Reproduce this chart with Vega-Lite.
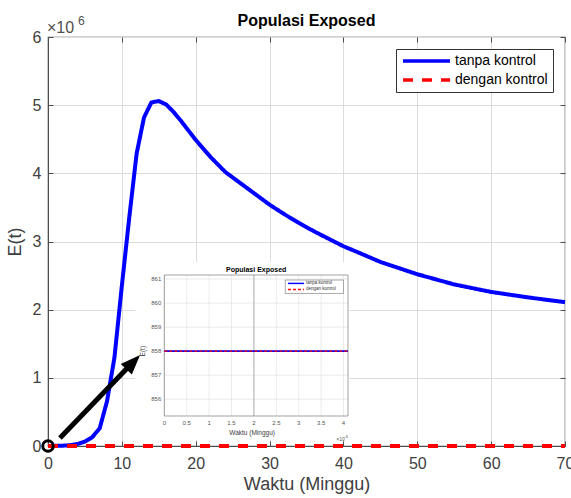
{
  "$schema": "https://vega.github.io/schema/vega-lite/v6.json",
  "width": 517,
  "height": 409,
  "autosize": "none",
  "padding": {"left": 48, "top": 37, "right": 6, "bottom": 52},
  "title": {"text": "Populasi Exposed", "font": "Liberation Sans", "fontSize": 16, "fontWeight": "bold", "color": "black", "offset": 9, "frame": "group", "dy": 23},
  "config": {
    "view": {"stroke": "#4d4d4d", "strokeWidth": 1.2},
    "font": "Liberation Sans",
    "axis": {"labelFont": "Liberation Sans", "titleFont": "Liberation Sans"},
    "legend": {"labelFont": "Liberation Sans"}
  },
  "datasets": {
    "one": [{}],
    "main": [
      {"t": 0, "E": 858, "series": "tanpa kontrol"},
      {"t": 1, "E": 2000, "series": "tanpa kontrol"},
      {"t": 2, "E": 5000, "series": "tanpa kontrol"},
      {"t": 3, "E": 12000, "series": "tanpa kontrol"},
      {"t": 4, "E": 30000, "series": "tanpa kontrol"},
      {"t": 5, "E": 65000, "series": "tanpa kontrol"},
      {"t": 6, "E": 130000, "series": "tanpa kontrol"},
      {"t": 7, "E": 260000, "series": "tanpa kontrol"},
      {"t": 8, "E": 660000, "series": "tanpa kontrol"},
      {"t": 9, "E": 1300000, "series": "tanpa kontrol"},
      {"t": 10, "E": 2350000, "series": "tanpa kontrol"},
      {"t": 11, "E": 3350000, "series": "tanpa kontrol"},
      {"t": 12, "E": 4290000, "series": "tanpa kontrol"},
      {"t": 13, "E": 4820000, "series": "tanpa kontrol"},
      {"t": 14, "E": 5040000, "series": "tanpa kontrol"},
      {"t": 15, "E": 5060000, "series": "tanpa kontrol"},
      {"t": 16, "E": 5010000, "series": "tanpa kontrol"},
      {"t": 17, "E": 4900000, "series": "tanpa kontrol"},
      {"t": 18, "E": 4770000, "series": "tanpa kontrol"},
      {"t": 19, "E": 4630000, "series": "tanpa kontrol"},
      {"t": 20, "E": 4490000, "series": "tanpa kontrol"},
      {"t": 22, "E": 4240000, "series": "tanpa kontrol"},
      {"t": 24, "E": 4020000, "series": "tanpa kontrol"},
      {"t": 26, "E": 3860000, "series": "tanpa kontrol"},
      {"t": 28, "E": 3700000, "series": "tanpa kontrol"},
      {"t": 30, "E": 3540000, "series": "tanpa kontrol"},
      {"t": 32, "E": 3400000, "series": "tanpa kontrol"},
      {"t": 34, "E": 3270000, "series": "tanpa kontrol"},
      {"t": 36, "E": 3150000, "series": "tanpa kontrol"},
      {"t": 38, "E": 3040000, "series": "tanpa kontrol"},
      {"t": 40, "E": 2930000, "series": "tanpa kontrol"},
      {"t": 42, "E": 2840000, "series": "tanpa kontrol"},
      {"t": 45, "E": 2700000, "series": "tanpa kontrol"},
      {"t": 50, "E": 2520000, "series": "tanpa kontrol"},
      {"t": 55, "E": 2370000, "series": "tanpa kontrol"},
      {"t": 60, "E": 2260000, "series": "tanpa kontrol"},
      {"t": 65, "E": 2180000, "series": "tanpa kontrol"},
      {"t": 70, "E": 2110000, "series": "tanpa kontrol"},
      {"t": 0, "E": 858, "series": "dengan kontrol"},
      {"t": 5, "E": 700, "series": "dengan kontrol"},
      {"t": 10, "E": 500, "series": "dengan kontrol"},
      {"t": 20, "E": 250, "series": "dengan kontrol"},
      {"t": 30, "E": 120, "series": "dengan kontrol"},
      {"t": 40, "E": 60, "series": "dengan kontrol"},
      {"t": 50, "E": 30, "series": "dengan kontrol"},
      {"t": 60, "E": 15, "series": "dengan kontrol"},
      {"t": 70, "E": 8, "series": "dengan kontrol"}
    ],
    "inset": [
      {"t": 0, "E": 858, "series": "tanpa kontrol"},
      {"t": 0.0000041, "E": 858, "series": "tanpa kontrol"},
      {"t": 0, "E": 858, "series": "dengan kontrol"},
      {"t": 0.0000041, "E": 858, "series": "dengan kontrol"}
    ],
    "insetX": [
      {"v": 0, "label": "0"},
      {"v": 0.0000005, "label": "0.5"},
      {"v": 0.000001, "label": "1"},
      {"v": 0.0000015, "label": "1.5"},
      {"v": 0.000002, "label": "2"},
      {"v": 0.0000025, "label": "2.5"},
      {"v": 0.000003, "label": "3"},
      {"v": 0.0000035, "label": "3.5"},
      {"v": 0.000004, "label": "4"}
    ],
    "insetY": [
      {"w": 856}, {"w": 857}, {"w": 858}, {"w": 859}, {"w": 860}, {"w": 861}
    ]
  },
  "layer": [
    {
      "layer": [
        {
          "data": {"name": "main"},
          "transform": [{"filter": "datum.series == 'tanpa kontrol'"}],
          "mark": {"type": "line", "strokeWidth": 4, "strokeCap": "butt", "strokeJoin": "round"},
          "encoding": {
            "x": {"field": "t", "type": "quantitative",
              "scale": {"domain": [0, 70], "nice": false, "zero": false},
              "axis": {"title": "Waktu (Minggu)", "values": [0, 10, 20, 30, 40, 50, 60, 70], "grid": true, "gridColor": "#dcdcdc",
                "tickSize": -5, "labelPadding": 14, "labelFontSize": 16, "titleFontSize": 18, "titleFontWeight": "normal", "titlePadding": 4,
                "domainColor": "#4d4d4d", "tickColor": "#4d4d4d", "labelColor": "#404040", "titleColor": "#404040", "labelFlush": false}},
            "y": {"field": "E", "type": "quantitative",
              "scale": {"domain": [0, 6000000], "nice": false, "zero": false},
              "axis": {"title": "E(t)", "values": [0, 1000000, 2000000, 3000000, 4000000, 5000000, 6000000], "labelExpr": "datum.value / 1000000",
                "grid": true, "gridColor": "#dcdcdc", "tickSize": -5, "labelPadding": 12, "labelFontSize": 16, "titleFontSize": 18,
                "titleFontWeight": "normal", "titlePadding": 8, "domainColor": "#4d4d4d", "tickColor": "#4d4d4d", "labelColor": "#404040", "titleColor": "#404040"}},
            "color": {"field": "series", "type": "nominal",
              "scale": {"domain": ["tanpa kontrol", "dengan kontrol"], "range": ["#0000ff", "#ff0000"]},
              "legend": {"title": null, "orient": "top-right", "offset": 12, "fillColor": "white", "strokeColor": "#333333", "padding": 5,
                "labelFontSize": 14, "labelColor": "black", "symbolType": "M-1,0H8.4", "symbolSize": 100, "symbolStrokeWidth": 3.5,
                "labelOffset": 40, "rowPadding": 5}},
            "strokeDash": {"field": "series", "type": "nominal",
              "scale": {"domain": ["tanpa kontrol", "dengan kontrol"], "range": [[1, 0], [10, 9]]},
              "legend": {"title": null, "orient": "top-right", "offset": 12, "fillColor": "white", "strokeColor": "#333333", "padding": 5,
                "labelFontSize": 14, "labelColor": "black", "symbolType": "M-1,0H8.4", "symbolSize": 100, "symbolStrokeWidth": 3.5,
                "labelOffset": 40, "rowPadding": 5}}
          }
        },
        {
          "data": {"name": "main"},
          "transform": [{"filter": "datum.series == 'dengan kontrol'"}],
          "mark": {"type": "line", "strokeWidth": 4, "strokeCap": "butt"},
          "encoding": {
            "x": {"field": "t", "type": "quantitative"},
            "y": {"field": "E", "type": "quantitative"},
            "color": {"field": "series", "type": "nominal"},
            "strokeDash": {"field": "series", "type": "nominal"}
          }
        },
        {
          "data": {"name": "one"},
          "mark": {"type": "text", "text": "×10", "align": "left", "baseline": "middle", "fontSize": 16, "color": "#505050", "dx": -1, "dy": -9},
          "encoding": {"x": {"datum": 0, "type": "quantitative"}, "y": {"datum": 6000000, "type": "quantitative"}}
        },
        {
          "data": {"name": "one"},
          "mark": {"type": "text", "text": "6", "align": "left", "baseline": "middle", "fontSize": 12, "color": "#505050", "dx": 30, "dy": -16},
          "encoding": {"x": {"datum": 0, "type": "quantitative"}, "y": {"datum": 6000000, "type": "quantitative"}}
        }
      ]
    },
    {
      "layer": [
        {
          "data": {"name": "one"},
          "mark": {"type": "rect", "fill": "white"},
          "encoding": {
            "x": {"datum": -0.00000065, "type": "quantitative", "scale": {"domain": [0, 0.0000041], "range": [116.3, 300], "nice": false, "zero": false}, "axis": null},
            "x2": {"datum": 0.000004134},
            "y": {"datum": 854.31, "type": "quantitative", "scale": {"domain": [855.3, 861.17], "range": [379, 238], "nice": false, "zero": false}, "axis": null},
            "y2": {"datum": 861.71}
          }
        },
        {
          "data": {"name": "insetX"},
          "mark": {"type": "rule", "color": "#e2e2e2", "strokeWidth": 0.7},
          "encoding": {"x": {"field": "v", "type": "quantitative"}, "y": {"datum": 855.3, "type": "quantitative"}, "y2": {"datum": 861.17}}
        },
        {
          "data": {"name": "insetY"},
          "mark": {"type": "rule", "color": "#e2e2e2", "strokeWidth": 0.7},
          "encoding": {"y": {"field": "w", "type": "quantitative"}, "x": {"datum": 0, "type": "quantitative"}, "x2": {"datum": 0.0000041}}
        },
        {
          "data": {"name": "one"},
          "mark": {"type": "rule", "color": "#aaaaaa", "strokeWidth": 0.9},
          "encoding": {"x": {"datum": 0.000002, "type": "quantitative"}, "y": {"datum": 855.3, "type": "quantitative"}, "y2": {"datum": 861.17}}
        },
        {
          "data": {"name": "one"},
          "mark": {"type": "rect", "fillOpacity": 0, "stroke": "#666666", "strokeWidth": 0.6},
          "encoding": {"x": {"datum": 0, "type": "quantitative"}, "x2": {"datum": 0.0000041}, "y": {"datum": 855.3, "type": "quantitative"}, "y2": {"datum": 861.17}}
        },
        {
          "data": {"name": "inset"},
          "transform": [{"filter": "datum.series == 'tanpa kontrol'"}],
          "mark": {"type": "line", "color": "#0000ff", "strokeWidth": 1.6},
          "encoding": {"x": {"field": "t", "type": "quantitative"}, "y": {"field": "E", "type": "quantitative"}}
        },
        {
          "data": {"name": "inset"},
          "transform": [{"filter": "datum.series == 'dengan kontrol'"}],
          "mark": {"type": "line", "color": "#ff0000", "strokeWidth": 1.3, "strokeDash": [3, 2]},
          "encoding": {"x": {"field": "t", "type": "quantitative"}, "y": {"field": "E", "type": "quantitative"}}
        },
        {
          "data": {"name": "insetX"},
          "mark": {"type": "text", "fontSize": 6, "color": "#555555", "baseline": "top", "dy": 4},
          "encoding": {"x": {"field": "v", "type": "quantitative"}, "y": {"datum": 855.3, "type": "quantitative"}, "text": {"field": "label"}}
        },
        {
          "data": {"name": "insetY"},
          "mark": {"type": "text", "fontSize": 6, "color": "#555555", "align": "right", "baseline": "middle", "dx": -3},
          "encoding": {"y": {"field": "w", "type": "quantitative"}, "x": {"datum": 0, "type": "quantitative"}, "text": {"field": "w"}}
        },
        {
          "data": {"name": "one"},
          "mark": {"type": "text", "text": "Populasi Exposed", "fontSize": 7, "fontWeight": "bold", "color": "black", "baseline": "bottom", "dy": -2},
          "encoding": {"x": {"datum": 0.00000205, "type": "quantitative"}, "y": {"datum": 861.17, "type": "quantitative"}}
        },
        {
          "data": {"name": "one"},
          "mark": {"type": "text", "text": "Waktu (Minggu)", "fontSize": 6.5, "color": "#404040", "baseline": "middle", "dy": 17},
          "encoding": {"x": {"datum": 0.00000196, "type": "quantitative"}, "y": {"datum": 855.3, "type": "quantitative"}}
        },
        {
          "data": {"name": "one"},
          "mark": {"type": "text", "text": "E(t)", "fontSize": 6.5, "color": "#404040", "baseline": "middle", "angle": 270},
          "encoding": {"x": {"datum": -0.00000047, "type": "quantitative"}, "y": {"datum": 858, "type": "quantitative"}}
        },
        {
          "data": {"name": "one"},
          "mark": {"type": "text", "text": "×10", "fontSize": 5, "color": "#555555", "align": "left", "baseline": "middle"},
          "encoding": {"x": {"datum": 0.00000384, "type": "quantitative"}, "y": {"datum": 854.35, "type": "quantitative"}}
        },
        {
          "data": {"name": "one"},
          "mark": {"type": "text", "text": "-6", "fontSize": 4, "color": "#555555", "align": "left", "baseline": "middle", "dx": 8, "dy": -2},
          "encoding": {"x": {"datum": 0.00000384, "type": "quantitative"}, "y": {"datum": 854.35, "type": "quantitative"}}
        },
        {
          "data": {"name": "one"},
          "mark": {"type": "rect", "fill": "white", "stroke": "#555555", "strokeWidth": 0.5},
          "encoding": {"x": {"datum": 0.0000027, "type": "quantitative"}, "x2": {"datum": 0.000004}, "y": {"datum": 860.4, "type": "quantitative"}, "y2": {"datum": 860.96}}
        },
        {
          "data": {"name": "one"},
          "mark": {"type": "rule", "color": "#0000ff", "strokeWidth": 1.5},
          "encoding": {"x": {"datum": 0.00000276, "type": "quantitative"}, "x2": {"datum": 0.00000312}, "y": {"datum": 860.82, "type": "quantitative"}}
        },
        {
          "data": {"name": "one"},
          "mark": {"type": "rule", "color": "#ff0000", "strokeWidth": 1.5, "strokeDash": [3, 2]},
          "encoding": {"x": {"datum": 0.00000276, "type": "quantitative"}, "x2": {"datum": 0.00000312}, "y": {"datum": 860.57, "type": "quantitative"}}
        },
        {
          "data": {"name": "one"},
          "mark": {"type": "text", "text": "tanpa kontrol", "fontSize": 4.5, "color": "#333333", "align": "left", "baseline": "middle"},
          "encoding": {"x": {"datum": 0.00000316, "type": "quantitative"}, "y": {"datum": 860.82, "type": "quantitative"}}
        },
        {
          "data": {"name": "one"},
          "mark": {"type": "text", "text": "dengan kontrol", "fontSize": 4.5, "color": "#333333", "align": "left", "baseline": "middle"},
          "encoding": {"x": {"datum": 0.00000316, "type": "quantitative"}, "y": {"datum": 860.57, "type": "quantitative"}}
        }
      ]
    },
    {
      "layer": [
        {
          "data": {"name": "one"},
          "mark": {"type": "rule", "color": "black", "strokeWidth": 5, "strokeCap": "butt"},
          "encoding": {
            "x": {"datum": 1.62, "type": "quantitative", "scale": {"domain": [0, 70], "nice": false, "zero": false},
              "axis": {"orient": "top", "values": [0, 10, 20, 30, 40, 50, 60, 70], "labels": false, "grid": false, "domain": false, "title": null, "tickSize": -5, "tickColor": "#4d4d4d"}},
            "y": {"datum": 117000, "type": "quantitative", "scale": {"domain": [0, 6000000], "nice": false, "zero": false},
              "axis": {"orient": "right", "values": [0, 1000000, 2000000, 3000000, 4000000, 5000000, 6000000], "labels": false, "grid": false, "domain": false, "title": null, "tickSize": -5, "tickColor": "#4d4d4d"}},
            "x2": {"datum": 11.3},
            "y2": {"datum": 1205000}
          }
        },
        {
          "data": {"name": "one"},
          "mark": {"type": "point", "shape": "M0,-1L0.7,0.8L-0.7,0.8Z", "filled": true, "color": "black", "opacity": 1, "size": 484, "angle": 44},
          "encoding": {"x": {"datum": 11.43, "type": "quantitative"}, "y": {"datum": 1219000, "type": "quantitative"}}
        },
        {
          "data": {"name": "one"},
          "mark": {"type": "point", "shape": "circle", "filled": false, "stroke": "black", "strokeWidth": 3, "opacity": 1, "size": 110},
          "encoding": {"x": {"datum": 0, "type": "quantitative"}, "y": {"datum": 0, "type": "quantitative"}}
        }
      ]
    }
  ],
  "resolve": {"scale": {"x": "independent", "y": "independent"}, "axis": {"x": "independent", "y": "independent"}}
}
